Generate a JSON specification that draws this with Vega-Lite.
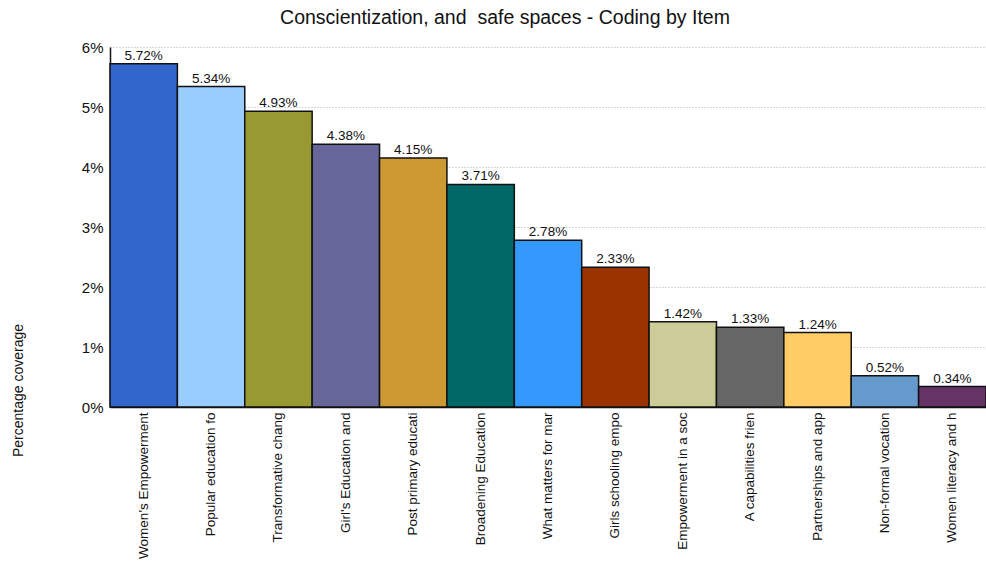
{
  "$schema": "https://vega.github.io/schema/vega-lite/v6.json",
  "autosize": "none",
  "width": 876,
  "height": 360,
  "padding": {"left": 110, "top": 47, "right": 0, "bottom": 156},
  "background": "white",
  "title": {
    "text": "Conscientization, and \u00a0safe spaces - Coding by Item",
    "font": "Liberation Sans",
    "fontSize": 19.5,
    "fontWeight": "normal",
    "color": "#111",
    "anchor": "middle",
    "dx": -43,
    "offset": 12
  },
  "data": {
    "values": [
      {"item": "Women's Empowerment", "value": 0.0572, "color": "#3366CC"},
      {"item": "Popular education fo", "value": 0.0534, "color": "#99CCFF"},
      {"item": "Transformative chang", "value": 0.0493, "color": "#999933"},
      {"item": "Girl's Education and", "value": 0.0438, "color": "#666699"},
      {"item": "Post primary educati", "value": 0.0415, "color": "#CC9933"},
      {"item": "Broadening Education", "value": 0.0371, "color": "#006666"},
      {"item": "What matters for mar", "value": 0.0278, "color": "#3399FF"},
      {"item": "Girls schooling empo", "value": 0.0233, "color": "#993300"},
      {"item": "Empowerment in a soc", "value": 0.0142, "color": "#CCCC99"},
      {"item": "A capabilities frien", "value": 0.0133, "color": "#666666"},
      {"item": "Partnerships and app", "value": 0.0124, "color": "#FFCC66"},
      {"item": "Non-formal vocation", "value": 0.0052, "color": "#6699CC"},
      {"item": "Women literacy and h", "value": 0.0034, "color": "#663366"}
    ]
  },
  "encoding": {
    "x": {
      "field": "item",
      "type": "nominal",
      "sort": null,
      "scale": {"paddingInner": 0, "paddingOuter": 0},
      "axis": {
        "title": null,
        "labelAngle": -90,
        "labelAlign": "right",
        "labelBaseline": "middle",
        "labelFont": "Liberation Sans",
        "labelFontSize": 13.5,
        "labelColor": "#111",
        "labelPadding": 5,
        "ticks": false,
        "domainColor": "#111",
        "domainWidth": 1.5,
        "grid": false,
        "labelLimit": 200
      }
    },
    "y": {
      "field": "value",
      "type": "quantitative",
      "scale": {"domain": [0, 0.06], "nice": false},
      "axis": {
        "title": "Percentage coverage",
        "titleFont": "Liberation Sans",
        "titleFontSize": 14,
        "titleFontWeight": "normal",
        "titleColor": "#111",
        "titleAngle": -90,
        "titleX": -92,
        "titleY": 343,
        "titleAlign": "center",
        "titleBaseline": "middle",
        "format": ".0%",
        "values": [0, 0.01, 0.02, 0.03, 0.04, 0.05, 0.06],
        "labelFont": "Liberation Sans",
        "labelFontSize": 15,
        "labelColor": "#111",
        "labelPadding": 7,
        "ticks": false,
        "domainColor": "#111",
        "domainWidth": 1.5,
        "grid": true,
        "gridColor": "#b0b0b0",
        "gridDash": [1, 2],
        "gridWidth": 1
      }
    }
  },
  "layer": [
    {
      "mark": {"type": "bar", "stroke": "#111", "strokeWidth": 1.5},
      "encoding": {
        "color": {"field": "color", "type": "nominal", "scale": null, "legend": null}
      }
    },
    {
      "mark": {"type": "text", "baseline": "bottom", "dy": -1, "font": "Liberation Sans", "fontSize": 13.5, "color": "#111"},
      "encoding": {
        "text": {"field": "value", "type": "quantitative", "format": ".2%"}
      }
    }
  ],
  "config": {"view": {"stroke": null}}
}
